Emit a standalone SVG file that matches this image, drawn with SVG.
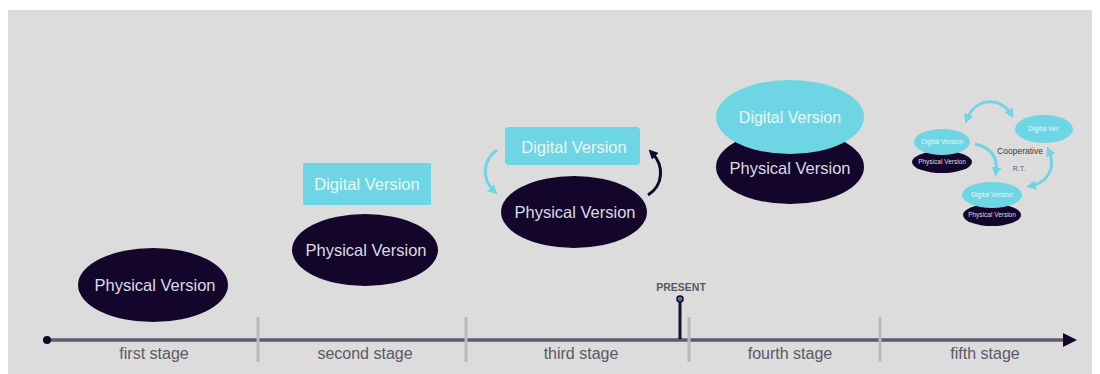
<svg xmlns="http://www.w3.org/2000/svg" width="1100" height="374" viewBox="0 0 1100 374">
  <style>
    .phys { fill: #14062a; }
    .digi { fill: #6dd5e4; }
    .t-phys { fill: #dcdbe4; font-family: "Liberation Sans", Arial, sans-serif; text-anchor: middle; }
    .t-digi { fill: #e8f8fb; font-family: "Liberation Sans", Arial, sans-serif; text-anchor: middle; }
    .stage { fill: #5a5866; font-family: "Liberation Sans", Arial, sans-serif; font-size: 16px; text-anchor: middle; }
    .sep { stroke: #b9b8c2; stroke-width: 3; }
    .arc-c { fill: none; stroke: #6dd5e4; stroke-width: 3; }
    .arc-d { fill: none; stroke: #14062a; stroke-width: 3; }
  </style>
  <defs>
    <marker id="ah-c" viewBox="0 0 10 10" refX="5" refY="5" markerWidth="3.2" markerHeight="3.2" orient="auto-start-reverse">
      <path d="M0,0 L10,5 L0,10 z" fill="#6dd5e4"/>
    </marker>
    <marker id="ah-d" viewBox="0 0 10 10" refX="5" refY="5" markerWidth="3.2" markerHeight="3.2" orient="auto-start-reverse">
      <path d="M0,0 L10,5 L0,10 z" fill="#14062a"/>
    </marker>
    <marker id="ah-t" viewBox="0 0 10 10" refX="5" refY="5" markerWidth="4" markerHeight="4" orient="auto">
      <path d="M0,0 L10,5 L0,10 z" fill="#14062a"/>
    </marker>
  </defs>

  <!-- canvas -->
  <rect width="1100" height="374" fill="#ffffff"/>
  <rect x="8" y="10" width="1084" height="364" fill="#dcdcdc"/>

  <!-- timeline -->
  <g id="timeline">
    <line x1="47" y1="340" x2="1070" y2="340" stroke="#5c5a70" stroke-width="3.5" marker-end="url(#ah-t)"/>
    <circle cx="47" cy="340" r="4" fill="#14062a"/>
    <line class="sep" x1="258" y1="317" x2="258" y2="362"/>
    <line class="sep" x1="466" y1="317" x2="466" y2="362"/>
    <line class="sep" x1="689" y1="317" x2="689" y2="362"/>
    <line class="sep" x1="880" y1="317" x2="880" y2="362"/>
    <text class="stage" x="154" y="359">first stage</text>
    <text class="stage" x="365" y="359">second stage</text>
    <text class="stage" x="581" y="359">third stage</text>
    <text class="stage" x="790" y="359">fourth stage</text>
    <text class="stage" x="985" y="359">fifth stage</text>
  </g>

  <!-- present marker -->
  <g id="present">
    <line x1="680" y1="300" x2="680" y2="339" stroke="#1a1030" stroke-width="3"/>
    <circle cx="680" cy="299" r="3" fill="#4a7a9a" stroke="#14062a" stroke-width="1.5"/>
    <text x="681" y="291" fill="#5a5866" font-family="Liberation Sans, Arial, sans-serif" font-size="10.5" font-weight="bold" text-anchor="middle">PRESENT</text>
  </g>

  <!-- stage 1 -->
  <g id="stage1-physical">
    <ellipse class="phys" cx="153" cy="285" rx="75" ry="37"/>
    <text class="t-phys" x="155" y="291" font-size="16.5">Physical Version</text>
  </g>

  <!-- stage 2 -->
  <g id="stage2-digital">
    <rect class="digi" x="303" y="163" width="128" height="42"/>
    <text class="t-digi" x="367" y="190" font-size="16.5">Digital Version</text>
  </g>
  <g id="stage2-physical">
    <ellipse class="phys" cx="365" cy="250" rx="73" ry="36"/>
    <text class="t-phys" x="366" y="256" font-size="16.5">Physical Version</text>
  </g>

  <!-- stage 3 -->
  <g id="stage3-digital">
    <rect class="digi" x="505" y="127" width="135" height="38" rx="4"/>
    <text class="t-digi" x="574" y="153" font-size="16.5">Digital Version</text>
  </g>
  <g id="stage3-physical">
    <ellipse class="phys" cx="574" cy="212" rx="73" ry="36"/>
    <text class="t-phys" x="575" y="218" font-size="16.5">Physical Version</text>
  </g>

  <!-- stage 4 -->
  <g id="stage4-physical">
    <ellipse class="phys" cx="790" cy="167" rx="74" ry="37"/>
    <text class="t-phys" x="790" y="174" font-size="16.5">Physical Version</text>
  </g>
  <g id="stage4-digital">
    <ellipse class="digi" cx="790" cy="117" rx="74" ry="37"/>
    <text class="t-digi" x="790" y="123" font-size="16">Digital Version</text>
  </g>

  <!-- stage 5 -->
  <g id="stage5-a-physical">
    <ellipse class="phys" cx="942" cy="162" rx="30" ry="11"/>
    <text class="t-phys" x="942" y="164" font-size="6.5">Physical Version</text>
  </g>
  <g id="stage5-a-digital">
    <ellipse class="digi" cx="942" cy="142" rx="28" ry="13"/>
    <text class="t-digi" x="942" y="144" font-size="6.5">Digital Version</text>
  </g>
  <g id="stage5-b-digital">
    <ellipse class="digi" cx="1044" cy="129" rx="29" ry="14"/>
    <text class="t-digi" x="1044" y="131" font-size="6.5">Digital Ver.</text>
  </g>
  <g id="stage5-c-physical">
    <ellipse class="phys" cx="992" cy="215" rx="29" ry="11"/>
    <text class="t-phys" x="992" y="217" font-size="6.5">Physical Version</text>
  </g>
  <g id="stage5-c-digital">
    <ellipse class="digi" cx="992" cy="195" rx="30" ry="13"/>
    <text class="t-digi" x="992" y="197" font-size="6.5">Digital Version</text>
  </g>
  <g id="stage5-label">
    <text x="1020" y="154" fill="#3a3844" font-family="Liberation Sans, Arial, sans-serif" font-size="8.5" text-anchor="middle">Cooperative</text>
    <text x="1019" y="171" fill="#5a5866" font-family="Liberation Sans, Arial, sans-serif" font-size="7" text-anchor="middle">R.T.</text>
  </g>

  <!-- connectors -->
  <g id="connectors">
    <path class="arc-c" d="M497,150 C482,160 482,180 494,191" marker-end="url(#ah-c)"/>
    <path class="arc-d" d="M648,195 C664,185 664,165 652,153" marker-end="url(#ah-d)"/>
    <path class="arc-c" d="M967,119 C975,98 1000,96 1011,114" marker-start="url(#ah-c)" marker-end="url(#ah-c)"/>
    <path class="arc-c" d="M975,144 C992,148 998,158 996,172" marker-end="url(#ah-c)"/>
    <path class="arc-c" d="M1049,151 C1056,168 1048,182 1031,186" marker-start="url(#ah-c)" marker-end="url(#ah-c)"/>
  </g>
</svg>
